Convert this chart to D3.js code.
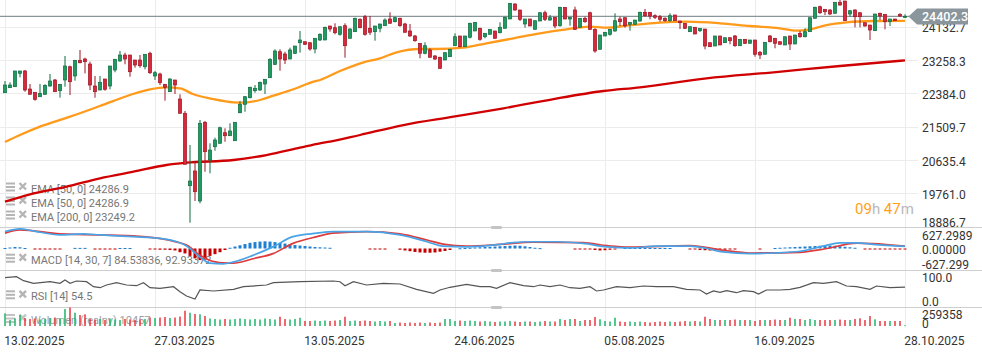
<!DOCTYPE html>
<html><head><meta charset="utf-8">
<script src="https://cdn.jsdelivr.net/npm/d3@7"></script>
<style>
html,body{margin:0;padding:0;background:#fff;}
svg{display:block;font-family:Roboto,"Noto Sans",sans-serif;}
</style></head>
<body><svg id="c" width="982" height="352"></svg>
<script>
// ---------- DATA ----------
const dateLabels = ["13.02.2025","27.03.2025","13.05.2025","24.06.2025","05.08.2025","16.09.2025","28.10.2025"];
const dateTickIdx = [0,30,60,90,120,150,180];
const priceTicks = [24132.7,23258.3,22384.0,21509.7,20635.4,19761.0,18886.7];
const macdTicks = [627.2989,0,-627.299];
const macdTickLabels = ["627.2989","0.00000","-627.299"];
const rsiTicks = [100,0];
const volTicks = [259358,0];
const lastPrice = 24402.3;

const opens = [22401,22533,22559,22910,22971,22498,22412,22296,22360,22577,22735,22454,22735,23083,22840,23251,23285,23154,22577,22472,
22761,22577,22997,23233,23390,23390,23259,23259,23083,23435,22840,22892,22622,22428,22735,22236,21861,19962,20348,19561,
21625,20636,20985,21074,21352,21273,21142,21877,22097,22270,22454,22472,22630,22795,23146,23477,23417,23285,23435,23713,
23739,23713,23548,23784,23784,24151,24106,23933,24159,23828,24002,24327,24395,24091,24002,24091,24159,24335,24264,24353,
24204,24020,23889,23697,23435,23522,23364,23330,23259,23346,23634,23889,23608,23855,24020,24091,23870,23933,24020,23975,
24091,24335,24728,24571,24204,24335,24064,24282,24500,24308,24379,24159,24641,24335,24571,24117,24353,24500,24064,23540,
23889,23933,24020,24335,24369,24196,24196,24282,24510,24510,24421,24395,24353,24290,24440,24282,24222,24002,24117,24028,
24072,23713,23626,23889,23713,23844,23889,23634,23802,23697,23784,23461,23409,23889,23828,23739,23653,23889,23679,23960,
23870,24002,24353,24657,24589,24571,24484,24773,24807,24466,24571,24500,24237,24177,24028,24484,24458,24264,24335,24458,24395];
const highs = [22708,22674,22971,22971,22997,22630,22412,22630,22622,22892,22761,22622,23364,23110,23251,23522,23320,23215,22840,22840,
22761,23102,23278,23495,23451,23390,23259,23390,23409,23477,22971,22926,22622,22779,22735,22360,21922,21030,20610,21685,
21659,21074,21221,21510,21468,21599,21625,22184,22315,22559,22603,22690,22753,23304,23540,23540,23477,23582,23626,24020,
23739,23713,23828,23960,24133,24151,24222,24133,24222,24091,24369,24353,24440,24413,24151,24204,24353,24510,24395,24369,
24237,24204,23915,23697,23723,23566,23390,23346,23461,23540,23960,23889,23889,24237,24248,24106,23960,24064,24020,24248,
24395,24746,24746,24571,24335,24335,24290,24500,24552,24440,24379,24657,24641,24379,24657,24353,24395,24526,24091,23915,
23986,24064,24484,24395,24369,24248,24308,24526,24597,24510,24458,24440,24379,24484,24440,24282,24222,24133,24117,24091,
24072,23713,23889,23889,23844,23844,23915,23802,23802,23784,23784,23495,23723,23915,23828,23739,23870,23889,23915,24020,
24091,24369,24657,24684,24589,24589,24773,24833,24807,24571,24589,24500,24237,24177,24466,24500,24458,24335,24335,24484,24458];
const lows = [22401,22533,22559,22805,22428,22360,22192,22296,22341,22559,22428,22270,22559,22341,22716,23173,22910,22472,22270,22472,
22454,22491,22937,23215,23146,22821,23057,23057,23015,22892,22735,22603,22192,22428,22367,21861,20523,18991,19561,19500,
20329,20287,20880,21074,21116,21273,21142,21861,21903,22255,22401,22454,22367,22795,23128,22979,23154,23285,23417,23451,
23653,23503,23435,23758,23784,24002,23933,23897,23320,23828,24002,24091,23897,23915,23765,23986,24159,24222,24248,24133,
23986,23870,23739,23304,23409,23330,23259,23023,23259,23346,23634,23592,23608,23828,24020,23765,23828,23933,23828,23960,
24091,24335,24552,24282,24106,24151,24064,24282,24282,24290,24091,24133,24327,24159,24046,24117,24237,24046,23451,23540,
23889,23897,24002,24151,24106,24028,24196,24264,24395,24327,24335,24264,24264,24264,24290,24072,24072,24002,23941,23994,
23540,23600,23626,23653,23705,23671,23608,23634,23679,23697,23346,23285,23409,23723,23566,23671,23653,23522,23679,23844,
23855,24002,24353,24466,24440,24440,24484,24684,24290,24395,24117,24117,24133,23784,24028,24308,24064,24151,24290,24395,24379];
const closes = [22603,22603,22971,22971,22472,22360,22228,22386,22595,22708,22428,22622,23102,22690,23251,23188,23215,22603,22428,22674,
22491,23102,23278,23390,23285,22952,23128,23110,23409,22926,22926,22664,22543,22761,22603,21861,20523,20085,19805,21599,
20854,20898,21161,21483,21273,21397,21625,22097,22296,22543,22517,22674,22753,23278,23495,23285,23259,23522,23626,23784,
23671,23548,23828,23933,24117,24072,23975,24133,23634,24072,24353,24106,23933,23986,24151,24204,24308,24222,24369,24159,
23986,23889,23765,23435,23634,23330,23285,23041,23451,23540,23870,23608,23889,24222,24248,23802,23960,24064,23828,24117,
24379,24746,24571,24327,24335,24151,24290,24500,24327,24369,24151,24641,24335,24379,24064,24353,24264,24064,23495,23915,
23986,24064,24290,24264,24159,24248,24308,24510,24421,24413,24379,24327,24290,24421,24290,24237,24091,24133,23941,24091,
23626,23608,23889,23653,23844,23765,23634,23802,23697,23784,23409,23390,23723,23739,23697,23671,23870,23679,23915,23870,
24002,24369,24641,24500,24526,24466,24773,24702,24290,24552,24395,24395,24151,24046,24466,24413,24264,24335,24290,24413,24402.3];
const volumes = [178000,84000,108000,154000,112000,98000,105000,91000,98000,112000,
119000,105000,238000,259358,186000,154000,164000,98000,91000,98000,
84000,105000,91000,84000,98000,91000,84000,91000,98000,119000,
112000,119000,126000,112000,119000,133000,214000,186000,168000,164000,
140000,105000,98000,91000,98000,91000,98000,105000,98000,91000,
98000,91000,105000,98000,91000,130000,98000,91000,98000,116000,
70000,70000,77000,70000,77000,70000,77000,84000,130000,70000,
77000,70000,77000,70000,63000,70000,63000,70000,42000,49000,
42000,49000,42000,49000,42000,49000,42000,49000,98000,98000,
70000,77000,70000,77000,70000,63000,70000,63000,56000,63000,
63000,70000,63000,56000,63000,63000,56000,63000,70000,63000,
63000,98000,84000,98000,98000,70000,84000,84000,126000,94000,
70000,63000,116000,63000,56000,63000,56000,63000,56000,49000,
56000,63000,56000,63000,56000,63000,70000,63000,70000,63000,
130000,98000,84000,84000,84000,84000,91000,84000,84000,84000,
70000,84000,84000,84000,91000,84000,84000,116000,98000,98000,
84000,98000,84000,84000,84000,84000,84000,91000,84000,84000,
98000,108000,84000,140000,94000,70000,70000,70000,70000,70000,
10457];

const ema50Idx = [0,3,7,13,19,25,29,32.3,35,37.7,41.7,45.7,47.7,51,53.7,57.7,61.7,63,67,71.7,75,78.3,83,86.3,91.7,96.3,101.7,107,112.3,117,120.3,124.3,127,131,136.3,143,149,155,158.3,161,164.3,168.3,173.7,180];
const ema50Val = [21108,21292,21510,21772,22053,22341,22491,22543,22517,22360,22236,22150,22139,22210,22323,22491,22690,22735,22971,23199,23304,23461,23548,23548,23582,23697,23828,23960,24064,24133,24106,24159,24196,24237,24264,24222,24151,24091,24028,24064,24177,24248,24282,24286.9];
const ema200Idx = [0,5,12.3,19,25.7,32.3,36.3,45.7,52.3,59,63,65,71,79.7,89.7,99.7,109.7,119.7,127,140.3,153.7,167,180];
const ema200Val = [19542,19736,19936,20156,20329,20505,20565,20636,20767,20959,21074,21116,21292,21554,21772,21992,22236,22446,22543,22779,22937,23102,23249.2];

const macdIdx = [0,3,5.6,11,15.6,19,25.6,31,34.4,36.4,39,41,43.6,45.6,49.6,53.6,57.6,62.4,65.6,72.4,79,84.4,87.6,92.4,99,101,105.6,110.4,115.6,120.4,125,130.4,137,140.4,143.6,149,153.6,159,163.6,167,170.4,173.6,180];
const macdVal = [686,797,714,549,590,549,479,413,273,95,-347,-595,-620,-553,-277,66,479,620,686,686,549,273,95,66,165,231,273,273,207,66,25,95,95,0,-140,-207,-182,-112,95,231,231,165,84.54];
const signalIdx = [0,3,11,25.6,34.4,36.4,39,41,43.6,45.6,49.6,53.6,57.6,62.4,65.6,72.4,79,84.4,87.6,92.4,99,105.6,115.6,120.4,125,137,143.6,149,159,163.6,170.4,173.6,180];
const signalVal = [620,756,590,508,260,136,-277,-483,-578,-595,-413,-207,207,479,620,686,590,343,178,95,165,260,240,116,54,116,-70,-182,-153,-29,219,198,92.93];
const macdHist = [20,40,60,50,20,0,-30,-30,-30,-30,-30,-30,0,0,25,25,25,0,-40,-40,
-40,-40,-40,20,20,20,0,0,0,-30,-40,-50,-50,-60,-80,-150,-200,-300,-400,-470,
-450,-300,-230,-150,-60,30,80,130,180,230,260,280,290,280,260,230,200,170,140,120,
100,80,60,50,40,30,0,0,0,0,0,0,0,-30,-30,-30,-30,0,0,-50,
-80,-110,-140,-160,-170,-170,-160,-130,-100,-60,0,10,20,30,40,50,60,70,80,90,
100,110,120,110,90,60,30,15,0,0,0,0,0,0,-20,-20,-20,-40,-60,-80,
-70,-50,-30,0,20,20,20,20,20,20,20,20,20,20,0,0,0,-20,-40,-60,
-70,-80,-80,-70,-50,-30,-20,0,0,0,0,-15,0,0,20,30,40,50,60,70,
80,90,100,110,120,120,110,90,70,50,30,0,-20,-30,-20,-10,-10,-10,-10,-10,-8];

const rsiIdx = [0,2.3,3.7,5.7,9,11,12,13,14.3,16.3,17.7,19,20.3,22.3,24.3,26.3,27.7,29,31,33.7,35,36.3,38,39,41.7,45.7,47.7,52.3,53.7,59,65.7,67,68,69.7,72.3,75.7,79,82.3,85.7,87,89,92.3,95,97,98.3,101,103.7,105.7,107,109,111,113,115,117,118.3,119.7,122.3,125,127.7,130.3,133.7,136.3,139,140.3,141.7,143,144.3,146.3,147.7,149.7,150.7,152.3,155,157,159,161.7,163.7,166.3,168.3,170.3,173,174.3,177,180];
const rsiVal = [93.1,97.1,80.8,70.2,76.7,70.2,83.7,70.2,79.6,76.7,56.3,52.2,63.3,72.7,63.3,60.4,72.7,52.2,49.8,56.3,35.9,18.4,6.1,42.9,38.8,45.7,56.3,63.3,72.7,76.7,79.6,76.7,60.4,76.7,63.3,70.2,67.3,45.7,29.4,42.9,53.9,66.1,56.3,56.3,49.8,72.7,60.4,56.3,63.3,56.3,63.3,52.2,49.8,56.3,38.8,42.9,56.3,52.2,59.2,56.3,56.3,45.7,42.9,26.5,38.8,33.5,40,31.8,40,35.9,26.5,42.9,42.9,45.7,53.9,72.7,70.2,76.7,59.2,56.3,45.7,59.2,52.2,54.5];

// ---------- SCALES ----------
const svg = d3.select("#c");
const x = d3.scaleLinear().domain([0,180]).range([5,905]);
const yP = d3.scaleLinear().domain([18886.7,24132.7]).range([226.7,26.7]);
const yM = d3.scaleLinear().domain([-627.3,627.3]).range([264,233]);
const yR = d3.scaleLinear().domain([0,100]).range([300.5,276]);
const yV = d3.scaleLinear().domain([0,259358]).range([326,307.5]);
const idx = d3.range(opens.length);

const GREEN="#1f9a61", GREEN_D="#116b41", RED="#d8283a", RED_D="#9b1725";

// ---------- GRID ----------
const grid = svg.append("g");
grid.selectAll(".hg").data(priceTicks).join("line")
  .attr("x1",0).attr("x2",918).attr("y1",d=>Math.round(yP(d))+0.5).attr("y2",d=>Math.round(yP(d))+0.5)
  .attr("stroke","#ececec");
grid.selectAll(".vg").data(dateTickIdx).join("line")
  .attr("x1",d=>Math.round(x(d))+0.5).attr("x2",d=>Math.round(x(d))+0.5).attr("y1",0).attr("y2",327)
  .attr("stroke","#ececec");

// panel separators
const seps=[227.5,270.5,307.5];
svg.selectAll(".sep").data(seps).join("line")
  .attr("x1",0).attr("x2",982).attr("y1",d=>d).attr("y2",d=>d)
  .attr("stroke","#cfcfcf").attr("stroke-width",1.2);
svg.selectAll(".hdl").data(seps).join("rect")
  .attr("x",491).attr("y",d=>d-1.5).attr("width",11).attr("height",3).attr("rx",1)
  .attr("fill","#c4c4c4");

// ---------- LEGENDS (behind) ----------
function icons(g,y){
  [0,3.5,7].forEach(o=>g.append("rect").attr("x",6).attr("y",y-6+o).attr("width",9).attr("height",2).attr("fill","#b5b5b5"));
  g.append("path").attr("d",`M19.5,${y-5.5} L26,${y+1} M26,${y-5.5} L19.5,${y+1}`)
    .attr("stroke","#b5b5b5").attr("stroke-width",2.4);
}
const leg = svg.append("g").attr("font-size",11).attr("fill","#777");
[["EMA [50,  0]  24286.9",188.5],["EMA [50,  0]  24286.9",202.5],["EMA [200,  0]  23249.2",216.5],
 ["MACD [14,  30,  7]  84.53836,  92.93372",259.7],["RSI [14]  54.5",296.3]].forEach(([t,y])=>{
  icons(leg,y);
  leg.append("text").attr("x",31).attr("y",y+4).text(t);
});
const volLeg = svg.append("g").attr("opacity",0.8).attr("font-size",11).attr("fill","#888");
icons(volLeg,320);
volLeg.append("text").attr("x",31).attr("y",324).text("Wolumen  (realny)  10457");

// ---------- MAIN PANEL ----------
const main = svg.append("g");
main.append("path").datum(ema200Idx.map((d,i)=>[d,ema200Val[i]]))
  .attr("fill","none").attr("stroke","#d00000").attr("stroke-width",2.3)
  .attr("d",d3.line().x(d=>x(d[0])).y(d=>yP(d[1])).curve(d3.curveMonotoneX));
main.append("path").datum(ema50Idx.map((d,i)=>[d,ema50Val[i]]))
  .attr("fill","none").attr("stroke","#ff9a1a").attr("stroke-width",2.3)
  .attr("d",d3.line().x(d=>x(d[0])).y(d=>yP(d[1])).curve(d3.curveMonotoneX));

// current price line
main.append("line").attr("x1",0).attr("x2",912).attr("y1",yP(lastPrice)).attr("y2",yP(lastPrice))
  .attr("stroke","#8a959a").attr("stroke-width",1.2);

const cg = main.selectAll(".cdl").data(idx).join("g");
cg.append("line")
  .attr("x1",i=>x(i)).attr("x2",i=>x(i)).attr("y1",i=>yP(highs[i])).attr("y2",i=>yP(lows[i]))
  .attr("stroke",i=>closes[i]>=opens[i]?GREEN_D:RED_D).attr("stroke-width",1);
cg.append("rect")
  .attr("x",i=>x(i)-1.6).attr("width",3.2)
  .attr("y",i=>yP(Math.max(opens[i],closes[i])))
  .attr("height",i=>Math.max(1,Math.abs(yP(opens[i])-yP(closes[i]))))
  .attr("fill",i=>closes[i]>=opens[i]?GREEN:RED)
  .attr("stroke",i=>closes[i]>=opens[i]?GREEN_D:RED_D).attr("stroke-width",0.7);

// ---------- MACD ----------
const mg = svg.append("g");
mg.selectAll("rect").data(idx.filter(i=>macdHist[i]!==0)).join("rect")
  .attr("x",i=>x(i)-1.5).attr("width",3)
  .attr("y",i=>Math.min(yM(0),yM(macdHist[i])))
  .attr("height",i=>Math.max(1,Math.abs(yM(macdHist[i])-yM(0))))
  .attr("fill",i=>macdHist[i]>0?"#1f7fd0":"#c40000");
mg.append("path").datum(signalIdx.map((d,i)=>[d,signalVal[i]]))
  .attr("fill","none").attr("stroke","#dd3b3b").attr("stroke-width",1.7)
  .attr("d",d3.line().x(d=>x(d[0])).y(d=>yM(d[1])).curve(d3.curveMonotoneX));
mg.append("path").datum(macdIdx.map((d,i)=>[d,macdVal[i]]))
  .attr("fill","none").attr("stroke","#4aa3e6").attr("stroke-width",1.7)
  .attr("d",d3.line().x(d=>x(d[0])).y(d=>yM(d[1])).curve(d3.curveMonotoneX));

// ---------- RSI ----------
svg.append("path").datum(rsiIdx.map((d,i)=>[d,rsiVal[i]]))
  .attr("fill","none").attr("stroke","#555").attr("stroke-width",1.2)
  .attr("d",d3.line().x(d=>x(d[0])).y(d=>yR(d[1])));

// ---------- VOLUME ----------
svg.append("g").selectAll("rect").data(idx).join("rect")
  .attr("x",i=>x(i)-0.75).attr("width",1.5)
  .attr("y",i=>yV(volumes[i])).attr("height",i=>Math.max(0.8,yV(0)-yV(volumes[i])))
  .attr("fill",i=>closes[i]>=opens[i]?"#1db46a":"#e8393e");

// ---------- AXES ----------
function styleAxis(g){
  g.select(".domain").remove();
  g.selectAll("line").remove();
  g.selectAll("text").attr("fill","#333").attr("font-size",12).attr("font-family","Roboto, sans-serif");
}
const lastTick = priceTicks[priceTicks.length-1];
svg.append("g").attr("transform","translate(917,0)")
  .call(d3.axisRight(yP).tickValues(priceTicks).tickSize(0).tickPadding(5).tickFormat(d3.format(".1f")))
  .call(styleAxis).selectAll("text").attr("dy",d=>d===lastTick?"-0.02em":"0.42em");
svg.append("g").attr("transform","translate(917,0)")
  .call(d3.axisRight(yM).tickValues(macdTicks).tickSize(0).tickPadding(5).tickFormat((d,i)=>macdTickLabels[i]))
  .call(styleAxis).selectAll("text").attr("dy",(d,i)=>i===0?"0.55em":(i===2?"0.4em":"0.45em"));
svg.append("g").attr("transform","translate(917,0)")
  .call(d3.axisRight(yR).tickValues(rsiTicks).tickSize(0).tickPadding(5).tickFormat(d3.format(".1f")))
  .call(styleAxis).selectAll("text").attr("dy","0.45em");
const va = svg.append("g").attr("transform","translate(917,0)")
  .call(d3.axisRight(yV).tickValues(volTicks).tickSize(0).tickPadding(5).tickFormat(d=>String(d)))
  .call(styleAxis);
va.selectAll("text").attr("dy",(d)=>d>0?"0.88em":"0.1em");
svg.append("g").attr("transform","translate(0,327)")
  .call(d3.axisBottom(x).tickValues(dateTickIdx).tickSize(0).tickPadding(9).tickFormat((d,i)=>dateLabels[i]))
  .call(styleAxis).selectAll("text").attr("text-anchor","start").attr("dx","-0.1em");

// current price tag
const ty = yP(lastPrice);
svg.append("path").attr("d",`M908.5,${ty} L917,${ty-8} L968,${ty-8} L968,${ty+8} L917,${ty+8} Z`).attr("fill","#8a969b");
svg.append("text").attr("x",922).attr("y",ty+4.5).attr("fill","#fff").attr("font-size",12.5).attr("font-weight",500)
  .text(d3.format(".1f")(lastPrice));

// countdown
const cd = svg.append("text").attr("x",855).attr("y",214).attr("font-size",15);
cd.append("tspan").attr("fill","#ff9f1c").text("09");
cd.append("tspan").attr("fill","#b9b9b9").text("h ");
cd.append("tspan").attr("fill","#ff9f1c").text("47");
cd.append("tspan").attr("fill","#b9b9b9").text("m");
</script>
</body></html>
